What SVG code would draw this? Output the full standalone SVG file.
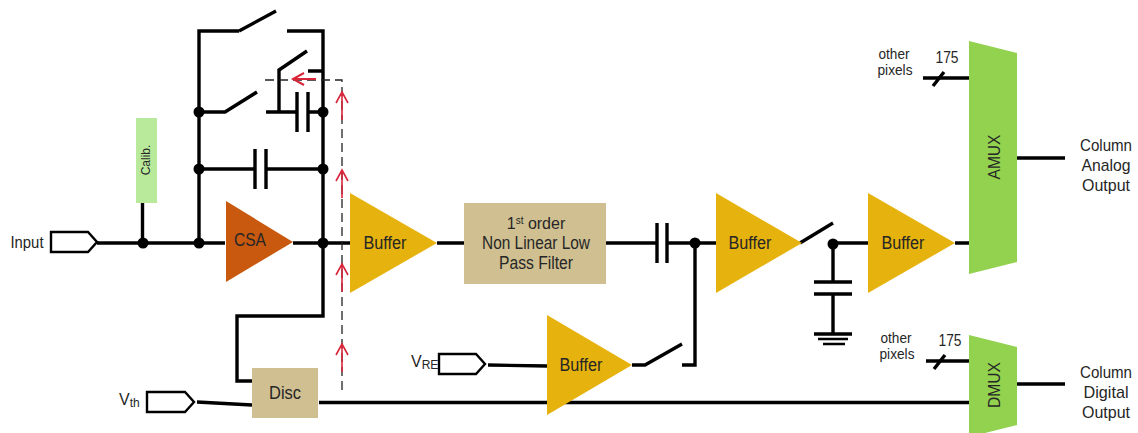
<svg xmlns="http://www.w3.org/2000/svg" width="1138" height="433" viewBox="0 0 1138 433">
<style>
text{font-family:"Liberation Sans",Arial,sans-serif;fill:#262626;text-anchor:middle;lengthAdjust:spacingAndGlyphs}
.w{fill:none;stroke:#000;stroke-width:3.4;stroke-linejoin:miter}
.t{fill:none;stroke:#000;stroke-width:2.4}
.d{fill:#000}
.buf{fill:#E6B20E}
.box{fill:#CFBF91}
.mux{fill:#92D24F}
.port{fill:#fff;stroke:#000;stroke-width:2.4}
.dash{fill:none;stroke:#222;stroke-width:1.3;stroke-dasharray:9 5}
.red{fill:none;stroke:#D8263A;stroke-width:1.6}
.l15{font-size:17px}
.l16{font-size:18px}
.l13{font-size:14.500px}
</style>
<defs>
<path id="up" class="red" d="M-6 11L0 0L6 11M0 0V28"/>
</defs>
<g id="connectors">
<path class="w" d="M97 243H225M293 243H350M437 243H464M606 243H657M667 243H716M833 243H868M955 243H969M1017 158H1065M1017 384H1065"/>
<path class="w" d="M142.500 203V243"/>
<path class="w" d="M239 31H199V243M239 31L276 11M287 31H323V316H237V381H252"/>
<path class="w" d="M279 112V70L307 51M308 71H323"/>
<path class="w" d="M199 112H225L257 92M266 112H297M297 92V132M308 92V132M308 112H323"/>
<path class="w" d="M199 169H255M255 149V189M266 149V189M266 169H323"/>
<path class="w" d="M657 223V263M667 223V263"/>
<path class="w" d="M695 243V365H682M632 365H645L682 344"/>
<path class="w" d="M800 243L833 223"/>
<path class="w" d="M833 243V282M814 282H852M814 294H852M833 294V334M814 334H852"/>
<path class="t" d="M818 339H848M823 344H845"/>
<path class="w" d="M197 402L252 405M488 365L547 366M319 402.500H969"/>
<path class="w" d="M923 78H969M926 361H969"/>
<path class="w" d="M933 86L944 72M934 369L945 355"/>
<path class="dash" d="M265 80H342V393"/>
<path class="red" style="stroke-width:2" d="M316 79H293M304 73L293 79L304 85"/>
<use href="#up" x="342" y="92"/>
<use href="#up" x="342" y="170"/>
<use href="#up" x="342" y="264"/>
<use href="#up" x="342" y="344"/>
<circle class="d" cx="143" cy="243" r="5.500"/>
<circle class="d" cx="199" cy="243" r="5.500"/>
<circle class="d" cx="323" cy="243" r="5.500"/>
<circle class="d" cx="199" cy="169" r="5.500"/>
<circle class="d" cx="323" cy="169" r="5.500"/>
<circle class="d" cx="199" cy="112" r="5.500"/>
<circle class="d" cx="323" cy="112" r="5.500"/>
<circle class="d" cx="695" cy="243" r="5.500"/>
<circle class="d" cx="833" cy="244" r="5.500"/>
</g>
<g id="input"><path class="port" d="M51 232H88L97 242L88 252H51Z"/><text class="l15" x="27" y="248" textLength="33" lengthAdjust="spacingAndGlyphs">Input</text></g>
<g id="calib"><rect x="136" y="118" width="21" height="85" fill="#B9EA9B"/><text font-size="12" transform="translate(150 160) rotate(-90)">Calib.</text></g>
<g id="csa"><path fill="#C8590F" d="M226 201L293 242L226 282Z"/><text x="250" y="246" font-size="18" textLength="32" lengthAdjust="spacingAndGlyphs">CSA</text></g>
<g id="buffer1"><path class="buf" d="M350 193L437 243L350 293Z"/><text class="l16" x="385" y="249" textLength="43" lengthAdjust="spacingAndGlyphs">Buffer</text></g>
<g id="filter"><rect class="box" x="464" y="203" width="142" height="81"/>
<text x="536" y="229" font-size="16">1<tspan font-size="10" dy="-5">st</tspan><tspan dy="5"> order</tspan></text>
<text x="536" y="249" font-size="17.500" textLength="108" lengthAdjust="spacingAndGlyphs">Non Linear Low</text>
<text x="536" y="269" font-size="17.500" textLength="74" lengthAdjust="spacingAndGlyphs">Pass Filter</text></g>
<g id="buffer2"><path class="buf" d="M716 193L802 243L716 293Z"/><text class="l16" x="750" y="249" textLength="43" lengthAdjust="spacingAndGlyphs">Buffer</text></g>
<g id="buffer3"><path class="buf" d="M547 315L632 365L547 415Z"/><text class="l16" x="581" y="371" textLength="43" lengthAdjust="spacingAndGlyphs">Buffer</text></g>
<g id="buffer4"><path class="buf" d="M868 193L955 243L868 293Z"/><text class="l16" x="903" y="249" textLength="43" lengthAdjust="spacingAndGlyphs">Buffer</text></g>
<g id="vref"><text x="411" y="367" font-size="16" style="text-anchor:start">V<tspan font-size="12" dy="2">REF</tspan></text><path class="port" d="M439 354H476L485 364L476 374H439Z"/></g>
<g id="vth"><path class="port" d="M147 392H185L194 402L185 412H147Z"/><text x="119" y="405" font-size="16" style="text-anchor:start">V<tspan font-size="12" dy="2">th</tspan></text></g>
<g id="disc"><rect class="box" x="252" y="368" width="66" height="50"/><text class="l16" x="285" y="399" textLength="32" lengthAdjust="spacingAndGlyphs">Disc</text></g>
<g id="amux"><path class="mux" d="M969 41L1017 53V262L969 274Z"/><text font-size="16.500" transform="translate(1000 157) rotate(-90)" textLength="45" lengthAdjust="spacingAndGlyphs">AMUX</text></g>
<g id="dmux"><path class="mux" d="M969 335L1017 347V425L969 437Z"/><text font-size="16.500" transform="translate(1000 385) rotate(-90)" textLength="46" lengthAdjust="spacingAndGlyphs">DMUX</text></g>
<g id="labels">
<text class="l13" x="894" y="59" textLength="31" lengthAdjust="spacingAndGlyphs">other</text><text class="l13" x="895" y="75" textLength="35" lengthAdjust="spacingAndGlyphs">pixels</text><text font-size="17" x="947" y="63" textLength="23" lengthAdjust="spacingAndGlyphs">175</text>
<text class="l13" x="896" y="343" textLength="31" lengthAdjust="spacingAndGlyphs">other</text><text class="l13" x="897" y="359" textLength="35" lengthAdjust="spacingAndGlyphs">pixels</text><text font-size="17" x="950" y="346" textLength="23" lengthAdjust="spacingAndGlyphs">175</text>
<text class="l15" x="1106" y="151" textLength="52" lengthAdjust="spacingAndGlyphs">Column</text><text class="l15" x="1106" y="171" textLength="49" lengthAdjust="spacingAndGlyphs">Analog</text><text class="l15" x="1106" y="191" textLength="48" lengthAdjust="spacingAndGlyphs">Output</text>
<text class="l15" x="1106" y="378" textLength="52" lengthAdjust="spacingAndGlyphs">Column</text><text class="l15" x="1106" y="398" textLength="45" lengthAdjust="spacingAndGlyphs">Digital</text><text class="l15" x="1106" y="418" textLength="48" lengthAdjust="spacingAndGlyphs">Output</text>
</g>
</svg>
